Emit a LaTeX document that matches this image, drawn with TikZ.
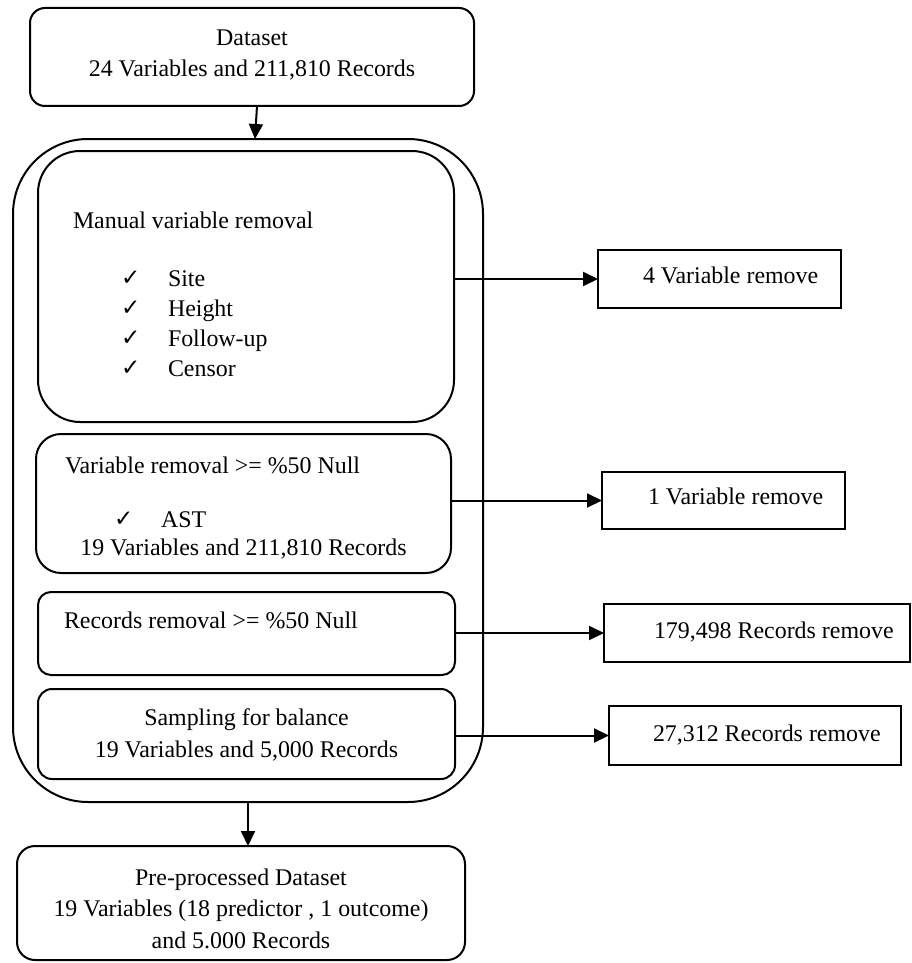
\documentclass[tikz,border=0pt]{standalone}
\usepackage{fontspec}
\setmainfont{Liberation Serif}
\newfontfamily\symfont{DejaVu Sans}
\usetikzlibrary{arrows.meta}
\newcommand{\chk}{{\symfont\fontsize{23}{23}\selectfont ✓}}
\begin{document}
\begin{tikzpicture}[x=1pt,y=-1pt,line width=2pt,
  font=\fontsize{23.9}{31.5}\selectfont,
  box/.style={draw,inner sep=0pt,outer sep=0pt},
  arr/.style={-{Triangle[length=15pt,width=14pt]}},
  lbl/.style={inner sep=0pt,anchor=base west},
  clbl/.style={inner sep=0pt,anchor=base,align=center}]
\useasboundingbox (0,0) rectangle (912,963);

% boxes
\node[box,rounded corners=15pt,minimum width=444pt,minimum height=98pt] (dataset) at (252,57) {};
\node[box,rounded corners=75pt,minimum width=470pt,minimum height=663pt] (outer) at (248,470.5) {};
\node[box,rounded corners=42pt,minimum width=416pt,minimum height=271pt] (manual) at (246,286.5) {};
\node[box,rounded corners=25pt,minimum width=415pt,minimum height=139pt] (varrem) at (243.5,503.5) {};
\node[box,rounded corners=13pt,minimum width=417pt,minimum height=83pt] (recrem) at (246.5,633.5) {};
\node[box,rounded corners=14pt,minimum width=417pt,minimum height=90pt] (samp) at (246.5,734) {};
\node[box,rounded corners=18pt,minimum width=448pt,minimum height=114pt] (pre) at (241,903) {};
\node[box,minimum width=243pt,minimum height=58pt] (r1) at (719.5,279) {};
\node[box,minimum width=243pt,minimum height=57pt] (r2) at (723.5,500.5) {};
\node[box,minimum width=306pt,minimum height=58pt] (r3) at (757,633) {};
\node[box,minimum width=292pt,minimum height=59pt] (r4) at (755,735.5) {};

% texts
\node[clbl] (tdata) at (252,77) {Dataset\\24 Variables and 211,810 Records};
\node[lbl] (tman) at (72,228) {Manual variable removal};
\node[lbl] (c1) at (120,285) {\chk};
\node[lbl] (c2) at (120,315) {\chk};
\node[lbl] (c3) at (120,345) {\chk};
\node[lbl] (c4) at (120,375) {\chk};
\node[lbl] (t1) at (167,286) {Site};
\node[lbl] (t2) at (167,316) {Height};
\node[lbl] (t3) at (167,346) {Follow-up};
\node[lbl] (t4) at (167,376) {Censor};
\node[lbl] (tvar) at (64,473) {Variable removal >= \%50 Null};
\node[lbl] (c5) at (113,526) {\chk};
\node[lbl] (t5) at (160,527) {AST};
\node[clbl] (tvar2) at (243.5,555) {19 Variables and 211,810 Records};
\node[lbl] (trec) at (63,628) {Records removal >= \%50 Null};
\node[clbl] (tsamp) at (246.5,757) {Sampling for balance\\19 Variables and 5,000 Records};
\node[clbl] (tpre) at (241,948) {Pre-processed Dataset\\19 Variables (18 predictor , 1 outcome)\\and 5.000 Records};
\node[lbl] (tr1) at (642,283) {4 Variable remove};
\node[lbl] (tr2) at (647,504) {1 Variable remove};
\node[lbl] (tr3) at (653,638) {179,498 Records remove};
\node[lbl] (tr4) at (652,741) {27,312 Records remove};

% connectors
\draw[arr] ([xshift=5pt]dataset.south) -- ([xshift=7pt]outer.north);
\draw[arr] (outer.south) -- (outer.south |- pre.north);
\draw[arr] (manual.east |- r1.west) -- (r1.west);
\draw[arr] (varrem.east |- r2.west) -- (r2.west);
\draw[arr] (recrem.east |- r3.west) -- (r3.west);
\draw[arr] (samp.east |- r4.west) -- (r4.west);
\end{tikzpicture}
\end{document}
